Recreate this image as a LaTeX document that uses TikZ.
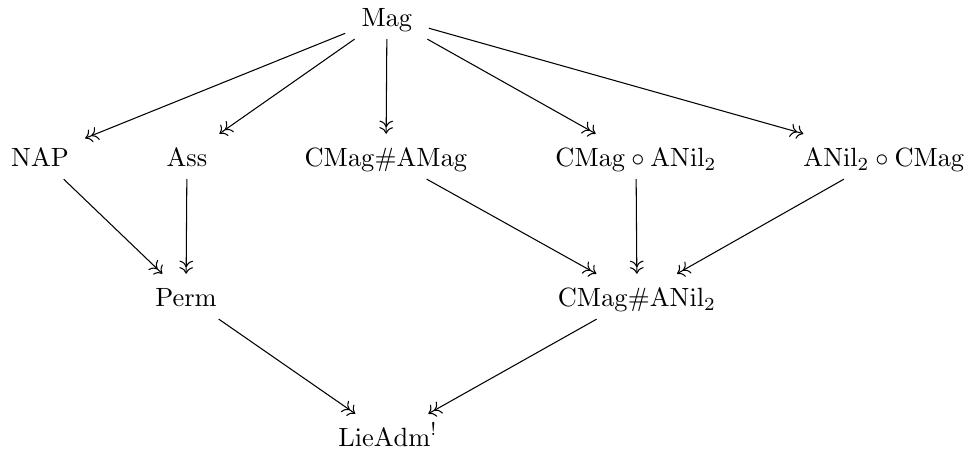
\documentclass[tikz,border=0pt]{standalone}
\usetikzlibrary{arrows.meta}
\begin{document}
\begin{tikzpicture}[x=0.3788pt,y=-0.3788pt,
  obj/.style={inner xsep=6pt, inner ysep=4.4pt, text height=8pt, text depth=0pt, anchor=base},
  epi/.style={->>, >={Computer Modern Rightarrow[]}, line width=0.4pt}]
\useasboundingbox (0,0) rectangle (969,454);
\node[obj] (mag) at (387,27) {$\mathrm{Mag}$};
\node[obj] (nap) at (40,167) {$\mathrm{NAP}$};
\node[obj] (ass) at (187,167) {$\mathrm{Ass}$};
\node[obj] (cmam) at (386,167) {$\mathrm{CMag}\#\mathrm{AMag}$};
\node[obj] (cman) at (636,167) {$\mathrm{CMag}\circ\mathrm{ANil}_2$};
\node[obj] (ancm) at (884,167) {$\mathrm{ANil}_2\circ\mathrm{CMag}$};
\node[obj] (perm) at (186,307) {$\mathrm{Perm}$};
\node[obj] (cmhan) at (637,307) {$\mathrm{CMag}\#\mathrm{ANil}_2$};
\node[obj] (lie) at (388,447) {$\mathrm{LieAdm}^{!}$};
\draw[epi] (mag) -- (nap);
\draw[epi] (mag) -- (ass);
\draw[epi] (mag) -- (cmam);
\draw[epi] (mag) -- (cman);
\draw[epi] (mag) -- (ancm);
\draw[epi] (nap) -- (perm);
\draw[epi] (ass) -- (perm);
\draw[epi] (cmam) -- (cmhan);
\draw[epi] (cman) -- (cmhan);
\draw[epi] (ancm) -- (cmhan);
\draw[epi] (perm) -- (lie);
\draw[epi] (cmhan) -- (lie);
\end{tikzpicture}
\end{document}
